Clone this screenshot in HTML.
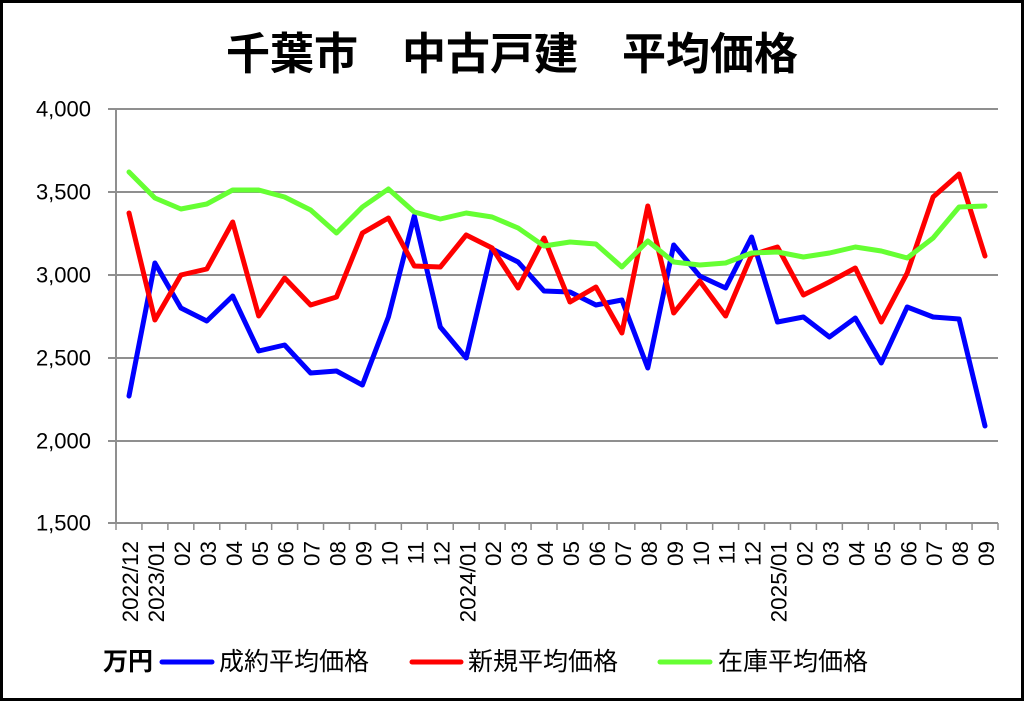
<!DOCTYPE html>
<html><head><meta charset="utf-8"><style>
html,body{margin:0;padding:0;background:#fff;}
svg{display:block;}
text{font-family:"Liberation Sans","Noto Sans CJK JP",sans-serif;}
</style></head><body>
<svg width="1024" height="701" viewBox="0 0 1024 701" xmlns="http://www.w3.org/2000/svg">
<rect x="0" y="0" width="1024" height="701" fill="#fff"/>
<rect x="1.5" y="1.5" width="1021" height="698" fill="none" stroke="#000" stroke-width="3"/>
<text x="512" y="69" text-anchor="middle" font-size="44" font-weight="bold" fill="#000">千葉市　中古戸建　平均価格</text>
<g stroke="#8f8f8f" stroke-width="2" fill="none">
<line x1="108" y1="109" x2="998" y2="109"/>
<line x1="108" y1="192" x2="998" y2="192"/>
<line x1="108" y1="275" x2="998" y2="275"/>
<line x1="108" y1="358" x2="998" y2="358"/>
<line x1="108" y1="441" x2="998" y2="441"/>
<line x1="108" y1="523" x2="998" y2="523"/>
<line x1="116" y1="109" x2="116" y2="523"/>
</g>
<g stroke="#8f8f8f" stroke-width="1.5" id="ticks"></g>
<g font-size="22" fill="#000" text-anchor="end">
<text x="91" y="116.5">4,000</text>
<text x="91" y="199.5">3,500</text>
<text x="91" y="282.5">3,000</text>
<text x="91" y="365.5">2,500</text>
<text x="91" y="448.5">2,000</text>
<text x="91" y="530.5">1,500</text>
</g>
<g id="xl" font-size="22.5" fill="#000"></g>
<g fill="none" stroke-width="5" stroke-linejoin="round" stroke-linecap="round">
<polyline id="pb" stroke="#0000ff"/>
<polyline id="pr" stroke="#ff0000"/>
<polyline id="pg" stroke="#66ff33"/>
</g>
<g font-size="25" fill="#000">
<text x="103" y="670" font-weight="bold">万円</text>
<line x1="162" y1="662" x2="212" y2="662" stroke="#0000ff" stroke-width="5" stroke-linecap="round"/>
<text x="219" y="670">成約平均価格</text>
<line x1="412" y1="662" x2="461" y2="662" stroke="#ff0000" stroke-width="5" stroke-linecap="round"/>
<text x="468" y="670">新規平均価格</text>
<line x1="660" y1="662" x2="710" y2="662" stroke="#66ff33" stroke-width="5" stroke-linecap="round"/>
<text x="718" y="670">在庫平均価格</text>
</g>
</svg>
<script>
(function(){
var NS="http://www.w3.org/2000/svg";
var step=882/34;
function X(i){return 116+step*(i+0.5);}
var blue=[396,263,308,321,296,351,345,373,371,385,317,216,327,358,249,262,291,292,305,300,368,245,276,288,237,322,317,337,318,363,307,317,319,426];
var red=[213,320,275,269,222,316,278,305,297,233,218,266,267,235,248,288,238,302,287,333,206,313,281,316,255,247,295,282,268,322,273,197,174,256];
var green=[172,198,209,204,190,190,197,210,233,207,189,212,219,213,217,228,246,242,244,267,241,262,265,263,253,252,257,253,247,251,258,238,207,206];
function pts(a){return a.map(function(y,i){return X(i).toFixed(1)+","+y;}).join(" ");}
document.getElementById("pb").setAttribute("points",pts(blue));
document.getElementById("pr").setAttribute("points",pts(red));
document.getElementById("pg").setAttribute("points",pts(green));
var tk=document.getElementById("ticks");
for(var k=0;k<=34;k++){var l=document.createElementNS(NS,"line");var x=116+step*k;
l.setAttribute("x1",x);l.setAttribute("x2",x);l.setAttribute("y1",523);l.setAttribute("y2",530);tk.appendChild(l);}
var labels=["2022/12","2023/01"];
for(var m=2;m<=12;m++)labels.push((m<10?"0":"")+m);
labels.push("2024/01");
for(var m=2;m<=12;m++)labels.push((m<10?"0":"")+m);
labels.push("2025/01");
for(var m=2;m<=9;m++)labels.push("0"+m);
var g=document.getElementById("xl");
labels.forEach(function(s,i){var t=document.createElementNS(NS,"text");
var x=X(i)+1;
t.setAttribute("transform","translate("+x.toFixed(1)+",541) rotate(-90)");
t.setAttribute("text-anchor","end");t.setAttribute("dy","0.36em");
t.textContent=s;g.appendChild(t);});
})();
</script>
</body></html>
